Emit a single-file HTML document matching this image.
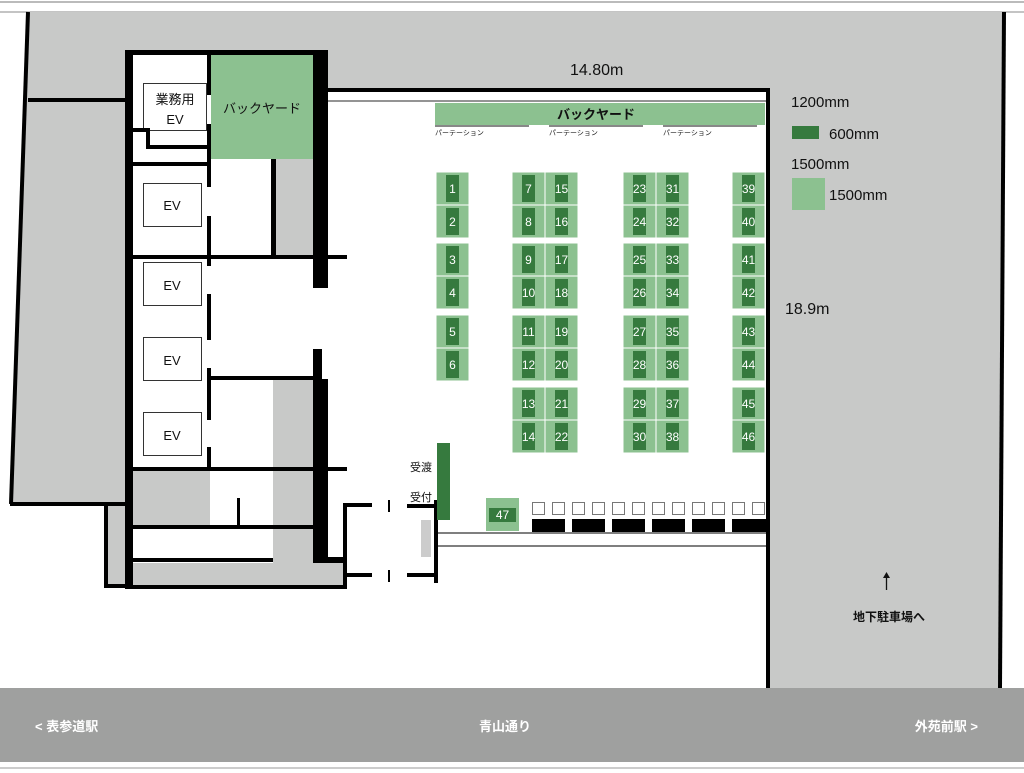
<!DOCTYPE html>
<html><head><meta charset="utf-8"><style>
html,body{margin:0;padding:0;background:#fff}
svg{display:block}
text{font-family:"Liberation Sans","Noto Sans CJK JP",sans-serif}
.n{fill:#fff;font-size:12px;text-anchor:middle}
</style></head><body>
<svg width="1024" height="773" viewBox="0 0 1024 773" xmlns="http://www.w3.org/2000/svg">
<rect width="1024" height="773" fill="#fff"/>
<line x1="0" y1="2" x2="1024" y2="2" stroke="#bbb" stroke-width="2"/>
<line x1="0" y1="12" x2="1024" y2="12" stroke="#888" stroke-width="1"/>
<polygon points="28,12 1004,12 1000,688 768,688 768,588 108,588 108,504 10,504" fill="#c8c9c8"/>
<line x1="28" y1="12" x2="11" y2="504" stroke="#000" stroke-width="4"/>
<line x1="10" y1="504" x2="125" y2="504" stroke="#000" stroke-width="4"/>
<line x1="28" y1="100" x2="125" y2="100" stroke="#000" stroke-width="4"/>
<line x1="1004" y1="12" x2="1000" y2="688" stroke="#000" stroke-width="4"/>
<rect x="104" y="504" width="4" height="83" fill="#000"/>
<rect x="104" y="584" width="22" height="4" fill="#000"/>
<rect x="133" y="55" width="195" height="530" fill="#fff"/>
<rect x="328" y="92" width="438" height="596" fill="#fff"/>
<rect x="0" y="588" width="768" height="100" fill="#fff"/>
<rect x="125" y="50" width="8" height="539" fill="#000"/>
<rect x="125" y="50" width="203" height="5" fill="#000"/>
<rect x="313" y="50" width="15" height="238" fill="#000"/>
<rect x="328" y="88" width="442" height="4" fill="#000"/>
<line x1="328" y1="101" x2="766" y2="101" stroke="#555" stroke-width="1.2"/>
<rect x="766" y="88" width="4" height="600" fill="#000"/>
<rect x="211" y="55" width="102" height="104" fill="#8cc190"/>
<text x="262" y="113" font-size="13" text-anchor="middle" fill="#111">バックヤード</text>
<rect x="276" y="159" width="37" height="97" fill="#c8c9c8"/>
<rect x="271" y="159" width="5" height="97" fill="#000"/>
<rect x="207" y="55" width="4" height="40" fill="#000"/>
<rect x="207" y="124" width="4" height="63" fill="#000"/>
<rect x="207" y="216" width="4" height="50" fill="#000"/>
<rect x="207" y="294" width="4" height="46" fill="#000"/>
<rect x="207" y="368" width="4" height="52" fill="#000"/>
<rect x="207" y="447" width="4" height="22" fill="#000"/>
<rect x="143.5" y="83.5" width="63" height="47" fill="#fff" stroke="#333" stroke-width="1"/>
<text x="175" y="104" font-size="13" text-anchor="middle" fill="#111">業務用</text>
<text x="175" y="124" font-size="13" text-anchor="middle" fill="#111">EV</text>
<rect x="133" y="128" width="17" height="4" fill="#000"/>
<rect x="146" y="128" width="4" height="21" fill="#000"/>
<rect x="146" y="145" width="64" height="4" fill="#000"/>
<rect x="133" y="162" width="77" height="4" fill="#000"/>
<rect x="143.5" y="183.5" width="58" height="43" fill="#fff" stroke="#333"/>
<text x="172" y="210" font-size="13" text-anchor="middle" fill="#111">EV</text>
<rect x="133" y="255" width="214" height="4" fill="#000"/>
<rect x="143.5" y="262.5" width="58" height="43" fill="#fff" stroke="#333"/>
<text x="172" y="290" font-size="13" text-anchor="middle" fill="#111">EV</text>
<rect x="143.5" y="337.5" width="58" height="43" fill="#fff" stroke="#333"/>
<text x="172" y="365" font-size="13" text-anchor="middle" fill="#111">EV</text>
<rect x="143.5" y="412.5" width="58" height="43" fill="#fff" stroke="#333"/>
<text x="172" y="440" font-size="13" text-anchor="middle" fill="#111">EV</text>
<rect x="313" y="349" width="9" height="32" fill="#000"/>
<rect x="210" y="376" width="103" height="4" fill="#000"/>
<rect x="273" y="380" width="40" height="88" fill="#c8c9c8"/>
<rect x="313" y="379" width="15" height="183" fill="#000"/>
<rect x="133" y="467" width="214" height="4" fill="#000"/>
<rect x="133" y="471" width="77" height="54" fill="#c8c9c8"/>
<rect x="273" y="471" width="40" height="92" fill="#c8c9c8"/>
<rect x="237" y="498" width="3" height="28" fill="#000"/>
<rect x="133" y="525" width="180" height="4" fill="#000"/>
<rect x="133" y="558" width="140" height="4" fill="#000"/>
<rect x="133" y="563" width="210" height="22" fill="#c8c9c8"/>
<rect x="313" y="557" width="32" height="6" fill="#000"/>
<rect x="125" y="585" width="222" height="4" fill="#000"/>
<rect x="343" y="503" width="4" height="86" fill="#000"/>
<rect x="343" y="503" width="29" height="4" fill="#000"/>
<rect x="343" y="573" width="29" height="4" fill="#000"/>
<rect x="388" y="500" width="2" height="12" fill="#000"/>
<rect x="388" y="570" width="2" height="12" fill="#000"/>
<rect x="407" y="504" width="31" height="4" fill="#000"/>
<rect x="407" y="573" width="31" height="4" fill="#000"/>
<rect x="434" y="500" width="4" height="83" fill="#000"/>
<rect x="421" y="520" width="10" height="37" fill="#ccc"/>
<rect x="437" y="443" width="13" height="77" fill="#367a3e"/>
<text x="410" y="471" font-size="11" fill="#111">受渡</text>
<text x="410" y="501" font-size="11" fill="#111">受付</text>
<line x1="438" y1="533" x2="766" y2="533" stroke="#555" stroke-width="1.5"/>
<line x1="438" y1="546" x2="766" y2="546" stroke="#555" stroke-width="1.5"/>
<rect x="435" y="103" width="330" height="22" fill="#8cc190"/>
<text x="596" y="119" font-size="13" font-weight="bold" text-anchor="middle" fill="#111">バックヤード</text>
<rect x="435" y="125" width="94" height="2" fill="#888"/>
<rect x="549" y="125" width="94" height="2" fill="#888"/>
<rect x="663" y="125" width="94" height="2" fill="#888"/>
<text x="435" y="135" font-size="7" fill="#222">パーテーション</text>
<text x="549" y="135" font-size="7" fill="#222">パーテーション</text>
<text x="663" y="135" font-size="7" fill="#222">パーテーション</text>
<g fill="#8cc190" stroke="#fff" stroke-width="1">
<rect x="436" y="172" width="33" height="33"/><rect x="436" y="205" width="33" height="33"/>
<rect x="436" y="243" width="33" height="33"/><rect x="436" y="276" width="33" height="33"/>
<rect x="436" y="315" width="33" height="33"/><rect x="436" y="348" width="33" height="33"/>
</g>
<g fill="#8cc190" stroke="#fff" stroke-width="1">
<rect x="512" y="172" width="33" height="33"/><rect x="512" y="205" width="33" height="33"/><rect x="512" y="243" width="33" height="33"/><rect x="512" y="276" width="33" height="33"/><rect x="512" y="315" width="33" height="33"/><rect x="512" y="348" width="33" height="33"/><rect x="512" y="387" width="33" height="33"/><rect x="512" y="420" width="33" height="33"/>
<rect x="545" y="172" width="33" height="33"/><rect x="545" y="205" width="33" height="33"/><rect x="545" y="243" width="33" height="33"/><rect x="545" y="276" width="33" height="33"/><rect x="545" y="315" width="33" height="33"/><rect x="545" y="348" width="33" height="33"/><rect x="545" y="387" width="33" height="33"/><rect x="545" y="420" width="33" height="33"/>
<rect x="623" y="172" width="33" height="33"/><rect x="623" y="205" width="33" height="33"/><rect x="623" y="243" width="33" height="33"/><rect x="623" y="276" width="33" height="33"/><rect x="623" y="315" width="33" height="33"/><rect x="623" y="348" width="33" height="33"/><rect x="623" y="387" width="33" height="33"/><rect x="623" y="420" width="33" height="33"/>
<rect x="656" y="172" width="33" height="33"/><rect x="656" y="205" width="33" height="33"/><rect x="656" y="243" width="33" height="33"/><rect x="656" y="276" width="33" height="33"/><rect x="656" y="315" width="33" height="33"/><rect x="656" y="348" width="33" height="33"/><rect x="656" y="387" width="33" height="33"/><rect x="656" y="420" width="33" height="33"/>
<rect x="732" y="172" width="33" height="33"/><rect x="732" y="205" width="33" height="33"/><rect x="732" y="243" width="33" height="33"/><rect x="732" y="276" width="33" height="33"/><rect x="732" y="315" width="33" height="33"/><rect x="732" y="348" width="33" height="33"/><rect x="732" y="387" width="33" height="33"/><rect x="732" y="420" width="33" height="33"/>
</g>
<g fill="#367a3e">
<rect x="446" y="175" width="13" height="27"/><rect x="446" y="208" width="13" height="27"/><rect x="446" y="246" width="13" height="27"/><rect x="446" y="279" width="13" height="27"/><rect x="446" y="318" width="13" height="27"/><rect x="446" y="351" width="13" height="27"/>
<rect x="522" y="175" width="13" height="27"/><rect x="522" y="208" width="13" height="27"/><rect x="522" y="246" width="13" height="27"/><rect x="522" y="279" width="13" height="27"/><rect x="522" y="318" width="13" height="27"/><rect x="522" y="351" width="13" height="27"/><rect x="522" y="390" width="13" height="27"/><rect x="522" y="423" width="13" height="27"/>
<rect x="555" y="175" width="13" height="27"/><rect x="555" y="208" width="13" height="27"/><rect x="555" y="246" width="13" height="27"/><rect x="555" y="279" width="13" height="27"/><rect x="555" y="318" width="13" height="27"/><rect x="555" y="351" width="13" height="27"/><rect x="555" y="390" width="13" height="27"/><rect x="555" y="423" width="13" height="27"/>
<rect x="633" y="175" width="13" height="27"/><rect x="633" y="208" width="13" height="27"/><rect x="633" y="246" width="13" height="27"/><rect x="633" y="279" width="13" height="27"/><rect x="633" y="318" width="13" height="27"/><rect x="633" y="351" width="13" height="27"/><rect x="633" y="390" width="13" height="27"/><rect x="633" y="423" width="13" height="27"/>
<rect x="666" y="175" width="13" height="27"/><rect x="666" y="208" width="13" height="27"/><rect x="666" y="246" width="13" height="27"/><rect x="666" y="279" width="13" height="27"/><rect x="666" y="318" width="13" height="27"/><rect x="666" y="351" width="13" height="27"/><rect x="666" y="390" width="13" height="27"/><rect x="666" y="423" width="13" height="27"/>
<rect x="742" y="175" width="13" height="27"/><rect x="742" y="208" width="13" height="27"/><rect x="742" y="246" width="13" height="27"/><rect x="742" y="279" width="13" height="27"/><rect x="742" y="318" width="13" height="27"/><rect x="742" y="351" width="13" height="27"/><rect x="742" y="390" width="13" height="27"/><rect x="742" y="423" width="13" height="27"/>
</g>
<g>
<text class="n" x="452.5" y="193">1</text><text class="n" x="452.5" y="226">2</text><text class="n" x="452.5" y="264">3</text><text class="n" x="452.5" y="297">4</text><text class="n" x="452.5" y="336">5</text><text class="n" x="452.5" y="369">6</text>
<text class="n" x="528.5" y="193">7</text><text class="n" x="528.5" y="226">8</text><text class="n" x="528.5" y="264">9</text><text class="n" x="528.5" y="297">10</text><text class="n" x="528.5" y="336">11</text><text class="n" x="528.5" y="369">12</text><text class="n" x="528.5" y="408">13</text><text class="n" x="528.5" y="441">14</text>
<text class="n" x="561.5" y="193">15</text><text class="n" x="561.5" y="226">16</text><text class="n" x="561.5" y="264">17</text><text class="n" x="561.5" y="297">18</text><text class="n" x="561.5" y="336">19</text><text class="n" x="561.5" y="369">20</text><text class="n" x="561.5" y="408">21</text><text class="n" x="561.5" y="441">22</text>
<text class="n" x="639.5" y="193">23</text><text class="n" x="639.5" y="226">24</text><text class="n" x="639.5" y="264">25</text><text class="n" x="639.5" y="297">26</text><text class="n" x="639.5" y="336">27</text><text class="n" x="639.5" y="369">28</text><text class="n" x="639.5" y="408">29</text><text class="n" x="639.5" y="441">30</text>
<text class="n" x="672.5" y="193">31</text><text class="n" x="672.5" y="226">32</text><text class="n" x="672.5" y="264">33</text><text class="n" x="672.5" y="297">34</text><text class="n" x="672.5" y="336">35</text><text class="n" x="672.5" y="369">36</text><text class="n" x="672.5" y="408">37</text><text class="n" x="672.5" y="441">38</text>
<text class="n" x="748.5" y="193">39</text><text class="n" x="748.5" y="226">40</text><text class="n" x="748.5" y="264">41</text><text class="n" x="748.5" y="297">42</text><text class="n" x="748.5" y="336">43</text><text class="n" x="748.5" y="369">44</text><text class="n" x="748.5" y="408">45</text><text class="n" x="748.5" y="441">46</text>
</g>
<rect x="486" y="498" width="33" height="33" fill="#8cc190"/>
<rect x="489" y="508" width="27" height="14" fill="#367a3e"/>
<text class="n" x="502.5" y="519">47</text>
<g fill="#fff" stroke="#777" stroke-width="1">
<rect x="532.5" y="502.5" width="12" height="12"/><rect x="552.5" y="502.5" width="12" height="12"/>
<rect x="572.5" y="502.5" width="12" height="12"/><rect x="592.5" y="502.5" width="12" height="12"/>
<rect x="612.5" y="502.5" width="12" height="12"/><rect x="632.5" y="502.5" width="12" height="12"/>
<rect x="652.5" y="502.5" width="12" height="12"/><rect x="672.5" y="502.5" width="12" height="12"/>
<rect x="692.5" y="502.5" width="12" height="12"/><rect x="712.5" y="502.5" width="12" height="12"/>
<rect x="732.5" y="502.5" width="12" height="12"/><rect x="752.5" y="502.5" width="12" height="12"/>
</g>
<g fill="#000">
<rect x="532" y="519" width="33" height="13"/><rect x="572" y="519" width="33" height="13"/><rect x="612" y="519" width="33" height="13"/><rect x="652" y="519" width="33" height="13"/><rect x="692" y="519" width="33" height="13"/><rect x="732" y="519" width="34" height="13"/>
</g>
<text x="570" y="75" font-size="16" fill="#111">14.80m</text>
<text x="785" y="314" font-size="16" fill="#111">18.9m</text>
<text x="791" y="107" font-size="15" fill="#111">1200mm</text>
<rect x="792" y="126" width="27" height="13" fill="#367a3e"/>
<text x="829" y="139" font-size="15" fill="#111">600mm</text>
<text x="791" y="169" font-size="15" fill="#111">1500mm</text>
<rect x="792" y="178" width="33" height="32" fill="#8cc190"/>
<text x="829" y="200" font-size="15" fill="#111">1500mm</text>
<line x1="886.5" y1="575" x2="886.5" y2="590" stroke="#111" stroke-width="1.3"/>
<polygon points="883,578 886.5,572 890,578" fill="#111"/>
<text x="889" y="621" font-size="12" font-weight="bold" text-anchor="middle" fill="#111">地下駐車場へ</text>
<rect x="0" y="688" width="1024" height="74" fill="#9fa09f"/>
<line x1="0" y1="768" x2="1024" y2="768" stroke="#bbb" stroke-width="1.5"/>
<text x="35" y="731" font-size="13" font-weight="bold" fill="#fff">&lt;  表参道駅</text>
<text x="505" y="731" font-size="13" font-weight="bold" fill="#fff" text-anchor="middle">青山通り</text>
<text x="978" y="731" font-size="13" font-weight="bold" fill="#fff" text-anchor="end">外苑前駅  &gt;</text>
</svg>
</body></html>
